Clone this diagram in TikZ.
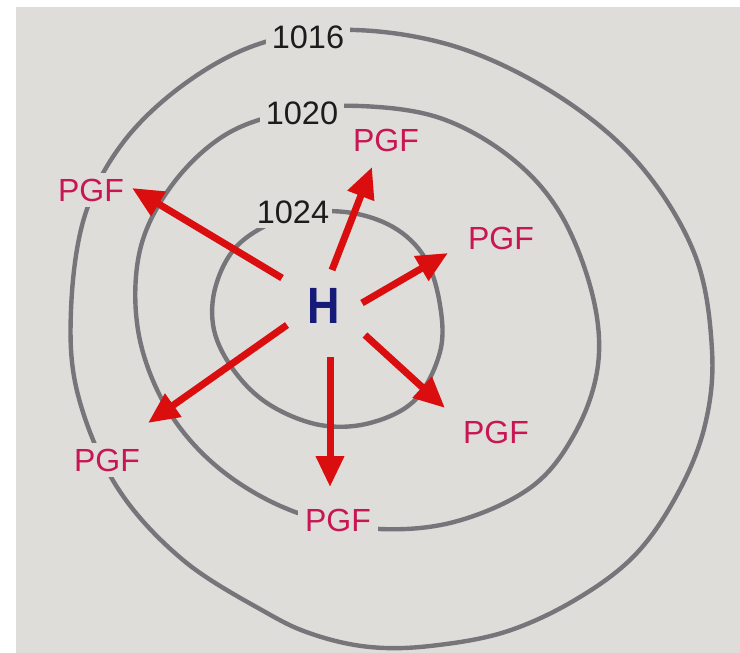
\documentclass[tikz,border=0pt]{standalone}
\usepackage{fontspec}
\setmainfont{Liberation Sans}
\usetikzlibrary{arrows.meta}
\definecolor{bg}{RGB}{223,221,218}
\definecolor{isobar}{RGB}{118,118,122}
\definecolor{pgfred}{RGB}{200,22,85}
\definecolor{arrowred}{RGB}{218,14,14}
\definecolor{navy}{RGB}{22,26,120}
\definecolor{numcol}{RGB}{28,28,28}
\tikzset{
  isoline/.style={draw=isobar,line width=4.4pt,line cap=round},
  pgflabel/.style={font=\fontsize{32}{32}\selectfont,text=pgfred,inner sep=0pt},
  gaplabel/.style={fill=bg,inner xsep=7pt,inner ysep=6pt},
  numlabel/.style={font=\fontsize{32.5}{32}\selectfont,text=numcol,fill=bg,inner xsep=6pt,inner ysep=4pt},
  forcearrow/.style={draw=arrowred,line width=7pt,-{Triangle[length=31pt,width=27pt]}},
}
\begin{document}
\begin{tikzpicture}[x=1pt,y=-1pt]
\useasboundingbox (0,0) rectangle (740,653);
\fill[white] (0,0) rectangle (740,653);
\fill[bg] (16,7) rectangle (740,653);
% isobars
\draw[isoline] plot[smooth cycle,tension=0.6] coordinates {
 (355,30) (460,48) (560,97) (640,165) (695,255) (712,350) (705,425) (678,493)
 (635,555) (575,600) (505,632) (430,646) (370,647) (315,635) (267,613) (183,560)
 (117,487) (78,395) (71,310) (85,215) (125,140) (190,80) (265,42)};
\draw[isoline] plot[smooth cycle,tension=0.6] coordinates {
 (360,106) (440,118) (510,157) (560,213) (592,293) (598,365) (575,433) (530,488)
 (450,523) (365,528) (285,508) (215,465) (165,405) (138,330) (140,250) (172,185)
 (225,135) (290,112)};
\draw[isoline] plot[smooth cycle,tension=0.6] coordinates {
 (345,212) (393,227) (425,258) (440,305) (440,352) (415,400) (370,423) (320,425)
 (270,405) (235,372) (214,330) (216,285) (240,243) (290,216)};
% labels on lines
\node[numlabel] (p1016) at (308,37) {1016};
\node[numlabel] (p1020) at (302,113) {1020};
\node[numlabel,inner xsep=3pt] (p1024) at (293,212) {1024};
\node[pgflabel] (ptop) at (386,140) {PGF};
\node[pgflabel,gaplabel] (pul) at (91,190) {PGF};
\node[pgflabel] (pru) at (501,238) {PGF};
\node[pgflabel] (prl) at (496,432) {PGF};
\node[pgflabel,gaplabel] (pll) at (107,460) {PGF};
\node[pgflabel,gaplabel] (pbot) at (338,520) {PGF};
\node[font=\bfseries\fontsize{51}{51}\selectfont,text=navy,inner sep=0pt] (H) at (324,306) {\scalebox{0.88}[1]{H}};
% arrow coordinates
\coordinate (s1) at (332,270); \coordinate (t1) at (372,167);
\coordinate (s2) at (362,303); \coordinate (t2) at (448,253);
\coordinate (s3) at (365,335); \coordinate (t3) at (445,408);
\coordinate (s4) at (330,357); \coordinate (t4) at (330,487);
\coordinate (s5) at (287,325); \coordinate (t5) at (148,423);
\coordinate (s6) at (282,278); \coordinate (t6) at (132,188);
\draw[forcearrow] (s1) -- (t1);
\draw[forcearrow] (s2) -- (t2);
\draw[forcearrow] (s3) -- (t3);
\draw[forcearrow] (s4) -- (t4);
\draw[forcearrow] (s5) -- (t5);
\draw[forcearrow] (s6) -- (t6);
\end{tikzpicture}
\end{document}
